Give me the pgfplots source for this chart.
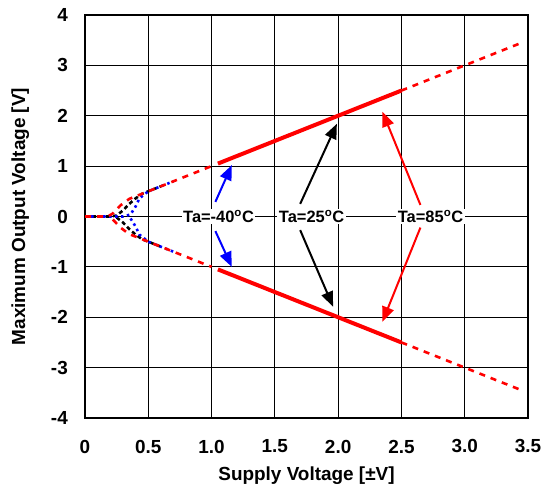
\documentclass[border=0pt]{standalone}
\usepackage{pgfplots}
\pgfplotsset{compat=1.18}
\usepackage{fontspec}
\setmainfont{Liberation Sans}
\usetikzlibrary{arrows.meta,calc}

\begin{document}
\begin{tikzpicture}
\begin{axis}[
  scale only axis,
  width=443bp, height=403bp,
  xmin=0, xmax=3.5, ymin=-4, ymax=4,
  xtick={0,0.5,1,1.5,2,2.5,3,3.5},
  xticklabels={0,0.5,1.0,1.5,2.0,2.5,3.0,3.5},
  ytick={-4,-3,-2,-1,0,1,2,3,4},
  grid=major,
  major grid style={black, line width=0.9bp},
  axis line style={line width=2.2bp},
  major tick length=0pt,
  /pgf/number format/assume math mode=true,
  ticklabel style={font=\bfseries\fontsize{19}{19}\selectfont, inner sep=0pt},
  xticklabel style={anchor=center, yshift=-28.5bp},
  yticklabel style={anchor=east, xshift=-17bp},
  xlabel={Supply Voltage [±V]},
  ylabel={Maximum Output Voltage [V]},
  label style={font=\bfseries\fontsize{19}{19}\selectfont, inner sep=0pt},
  xlabel style={at={(axis description cs:0.5,0)}, anchor=base, yshift=-63bp},
  ylabel style={at={(axis description cs:-0.1354,0.5)}, anchor=base},
  clip=true,
]
\coordinate (o) at (rel axis cs:0,0);
\coordinate (e) at (rel axis cs:1,1);
% Ta=25C (black)
\addplot[black, line width=2.6bp, dash pattern=on 4bp off 3bp] coordinates {
(0,0) (0.1,0) (0.2,0) (0.25,0.02) (0.3,0.12) (0.35,0.25) (0.4,0.36) (0.45,0.45) (0.5,0.5) (0.6,0.6)};
\addplot[black, line width=2.6bp, dash pattern=on 4bp off 3bp] coordinates {
(0.25,-0.02) (0.3,-0.12) (0.35,-0.25) (0.4,-0.36) (0.45,-0.45) (0.5,-0.5) (0.6,-0.6)};
% Ta=-40C (blue)
\addplot[blue, line width=2.6bp, dash pattern=on 2.5bp off 3.5bp] coordinates {
(0,0) (0.2,0) (0.3,0) (0.36,0.04) (0.4,0.2) (0.43,0.36) (0.5,0.5) (0.6,0.6) (0.7,0.7)};
\addplot[blue, line width=2.6bp, dash pattern=on 2.5bp off 3.5bp] coordinates {
(0.36,-0.04) (0.4,-0.2) (0.43,-0.36) (0.5,-0.5) (0.6,-0.6) (0.7,-0.7)};
% Ta=85C (red)
\addplot[red, line width=2.6bp, dash pattern=on 6bp off 6bp] coordinates {
(0,0) (0.1,0) (0.18,0) (0.22,0.06) (0.28,0.22) (0.35,0.35) (0.42,0.42) (0.5,0.5) (0.75,0.75) (1.0,1.0)};
\addplot[red, line width=2.6bp, dash pattern=on 6bp off 6bp] coordinates {
(0.22,-0.06) (0.28,-0.22) (0.35,-0.35) (0.42,-0.42) (0.5,-0.5) (0.75,-0.75) (1.0,-1.0)};
\addplot[red, line width=2.6bp, dash pattern=on 6bp off 6bp] coordinates {
(2.5,2.5) (3.0,3.0) (3.45,3.45)};
\addplot[red, line width=2.6bp, dash pattern=on 6bp off 6bp] coordinates {
(2.5,-2.5) (3.0,-3.0) (3.45,-3.45)};
\addplot[red, line width=4bp] coordinates {(1.05,1.05) (1.5,1.5) (2.0,2.0) (2.5,2.5)};
\addplot[red, line width=4bp] coordinates {(1.05,-1.05) (1.5,-1.5) (2.0,-2.0) (2.5,-2.5)};

% annotations
\tikzset{lab/.style={fill=white, inner sep=1.5pt, font=\bfseries\fontsize{16.5}{16.5}\selectfont},
  arr/.style={line width=2bp, -{Triangle[length=15bp,width=12bp]}}}
\draw[arr, blue] (axis cs:1.03,0.29) -- (axis cs:1.16,1.02);
\draw[arr, blue] (axis cs:1.03,-0.29) -- (axis cs:1.16,-1.0);
\draw[arr, black] (axis cs:1.70,0.25) -- (axis cs:1.99,1.84);
\draw[arr, black] (axis cs:1.70,-0.27) -- (axis cs:1.96,-1.79);
\draw[arr, red] (axis cs:2.65,0.23) -- (axis cs:2.35,2.08);
\draw[arr, red] (axis cs:2.65,-0.22) -- (axis cs:2.35,-2.09);
\node[lab] at (axis cs:1.055,0) {Ta=-40\textsuperscript{o}C};
\node[lab] at (axis cs:1.79,0) {Ta=25\textsuperscript{o}C};
\node[lab] at (axis cs:2.73,0) {Ta=85\textsuperscript{o}C};
\end{axis}
\pgfresetboundingbox
\path[use as bounding box] ($(o)+(-85bp,-75bp)$) rectangle ($(e)+(18bp,15bp)$);
\end{tikzpicture}
\end{document}
